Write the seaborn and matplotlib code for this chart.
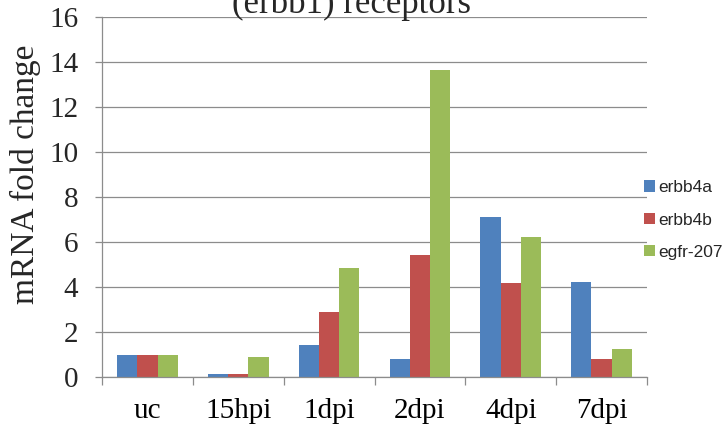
import matplotlib
matplotlib.use("Agg")
import matplotlib.pyplot as plt
import seaborn as sns
import pandas as pd
from matplotlib.ticker import FixedLocator

categories = ["uc", "15hpi", "1dpi", "2dpi", "4dpi", "7dpi"]
series_names = ["erbb4a", "erbb4b", "egfr-207"]
erbb4a = [1.0, 0.13, 1.41, 0.78, 7.09, 4.22]
erbb4b = [1.0, 0.13, 2.91, 5.41, 4.17, 0.78]
egfr_207 = [1.0, 0.87, 4.84, 13.64, 6.23, 1.23]
colors = ["#4F81BD", "#C0504D", "#9BBB59"]
y_ticks = [0, 2, 4, 6, 8, 10, 12, 14, 16]
title_text = "(erbb1) receptors"
y_label = "mRNA fold change"

rows = []
for name, vals in zip(series_names, [erbb4a, erbb4b, egfr_207]):
    for c, v in zip(categories, vals):
        rows.append({"time": c, "gene": name, "fold": v})
df = pd.DataFrame(rows)

sns.set_theme(style="white")
plt.rcParams["font.family"] = ["Liberation Serif", "DejaVu Serif"]

fig = plt.figure(figsize=(7.25, 4.33), dpi=100)
ax = fig.add_axes([102 / 725, 1 - 377 / 433, 545 / 725, 360 / 433])

sns.barplot(data=df, x="time", y="fold", hue="gene", order=categories,
            hue_order=series_names, palette=colors, width=0.667, gap=0,
            saturation=1, linewidth=0, ax=ax, legend=True)

ax.set_ylim(0, 16)
ax.set_xlim(-0.5, len(categories) - 0.5)
ax.set_yticks(y_ticks)
ax.set_yticklabels([str(t) for t in y_ticks])
ax.yaxis.grid(True, color="#8C8C8C", linewidth=0.9)
ax.set_axisbelow(True)
for s in ["top", "right"]:
    ax.spines[s].set_visible(False)
for s in ["left", "bottom"]:
    ax.spines[s].set_color("#8C8C8C")
    ax.spines[s].set_linewidth(0.9)

ax.xaxis.set_minor_locator(FixedLocator([i - 0.5 for i in range(len(categories) + 1)]))
ax.tick_params(axis="x", which="major", length=0, pad=15, labelsize=21, colors="black")
ax.tick_params(axis="x", which="minor", length=6, width=0.9, color="#8C8C8C", direction="out", bottom=True)
ax.tick_params(axis="y", which="major", length=5, width=0.9, color="#8C8C8C", direction="out", left=True, pad=12, labelsize=21)

ax.set_xlabel("")
ax.set_ylabel(y_label, fontsize=24)
ax.yaxis.set_label_coords(-0.112, 0.564)

handles, labels = ax.get_legend_handles_labels()
ax.get_legend().remove()
fig.legend(handles, labels, loc="center left", bbox_to_anchor=(644 / 725, 1 - 220 / 433),
           frameon=False, prop={"family": "Liberation Sans", "size": 12.5},
           handlelength=0.63, handleheight=0.63, handletextpad=0.2,
           labelspacing=1.0, borderpad=0, borderaxespad=0)

fig.text(351 / 725, 1 - 12.7 / 433, title_text, ha="center", va="baseline", fontsize=25)

fig.savefig("out.png", dpi=100)
